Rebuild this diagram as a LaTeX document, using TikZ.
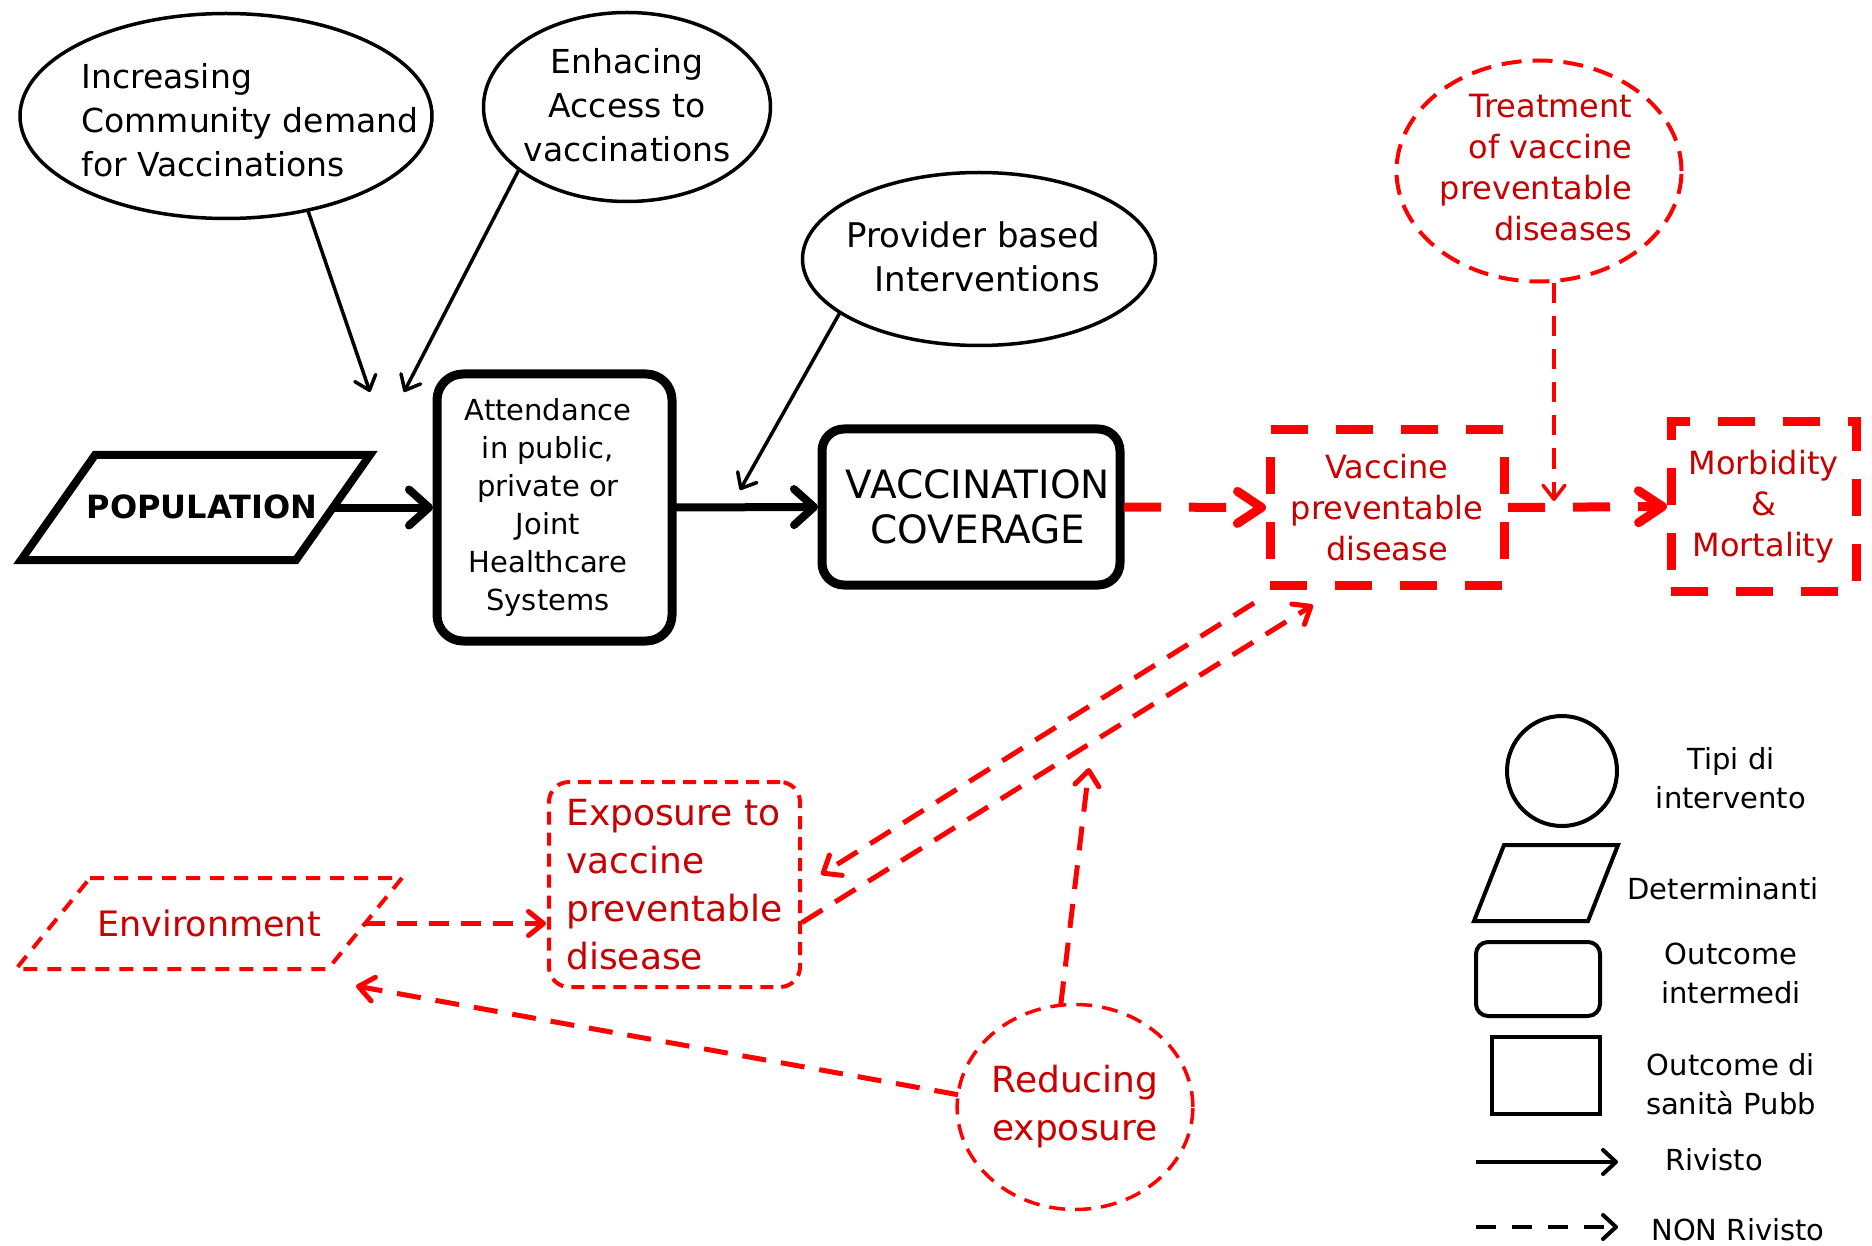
\documentclass[tikz,border=0pt]{standalone}
\usepackage{fontspec}
\setmainfont{DejaVu Sans}
\usetikzlibrary{arrows.meta,shapes.geometric,calc}
\definecolor{linered}{RGB}{255,0,0}
\definecolor{textred}{RGB}{200,0,0}
\begin{document}
\begin{tikzpicture}[x=1pt,y=-1pt,
  every node/.style={inner sep=0pt,outer sep=0pt},
  fsz/.style 2 args={font=\fontsize{#1}{#2}\selectfont},
  interv/.style={draw,ellipse,line width=3.5pt},
  intervred/.style={draw=linered,ellipse,line width=4pt,dash pattern=on 20pt off 11pt,text=textred},
  midout/.style={draw,rounded corners=26pt,line width=9pt},
  finalout/.style={draw=linered,line width=9pt,dash pattern=on 37pt off 28pt,text=textred},
  thinlink/.style={line width=3.5pt,-{Straight Barb[length=13pt,width=22pt,round]}},
  thicklink/.style={line width=8pt,-{Straight Barb[length=20pt,width=36pt,round]}},
  redthick/.style={draw=linered,line width=9pt,dash pattern=on 37pt off 28pt,-{Straight Barb[length=24pt,width=32pt,round]}},
  redlink/.style={draw=linered,line width=5pt,dash pattern=on 24pt off 15pt,-{Straight Barb[length=15pt,width=24pt,round]}},
  redthin/.style={draw=linered,line width=3.5pt,dash pattern=on 20pt off 13pt,-{Straight Barb[length=14pt,width=22pt,round]}},
  legline/.style={line width=4pt,-{Straight Barb[length=13pt,width=24pt,round]}},
]
\useasboundingbox[fill=white] (0,0) rectangle (1872,1246);

% ---------- interventions ----------
\node[interv,minimum width=412pt,minimum height=205pt] (e1) at (226,116) {};
\node[fsz={33}{44},align=left] (e1t) at (250,120) {Increasing\\Community demand\\for Vaccinations};
\node[interv,minimum width=287pt,minimum height=189pt] (e2) at (627,107) {};
\node[fsz={33}{44},align=center] (e2t) at (627,105) {Enhacing\\Access to\\vaccinations};
\node[interv,minimum width=353pt,minimum height=173pt] (e3) at (979,259) {};
\node[fsz={34}{44},align=right] (e3t) at (973,257) {Provider based\\Interventions};
\node[intervred,minimum width=285pt,minimum height=221pt] (tr) at (1539,171) {};
\node[fsz={32}{41},align=right,text=textred] (trt) at (1536,168) {Treatment\\of vaccine\\preventable\\diseases};

% ---------- determinants ----------
\node[minimum width=275pt,minimum height=105pt] (pop) at (195.5,507.5) {};
\draw[line width=8pt] ([xshift=37pt]pop.north west) -- ([xshift=37pt]pop.north east)
  -- ([xshift=-37pt]pop.south east) -- ([xshift=-37pt]pop.south west) -- cycle;
\node[fsz={32}{40}] (popt) at (202,507) {\bfseries POPULATION};

\node[minimum width=312pt,minimum height=91pt,fsz={35}{44},text=textred] (env) at (209,923.5) {Environment};
\draw[draw=linered,line width=4pt,dash pattern=on 14pt off 10pt] ([xshift=37pt]env.north west) -- ([xshift=37pt]env.north east)
  -- ([xshift=-37pt]env.south east) -- ([xshift=-37pt]env.south west) -- cycle;

% ---------- outcomes ----------
\node[midout,minimum width=235pt,minimum height=267pt] (att) at (554.5,507.5) {};
\node[fsz={29}{38},align=center] (attt) at (548,507.5)
  {Attendance\\in public,\\private or\\Joint\\Healthcare\\Systems};
\node[midout,rounded corners=22pt,minimum width=298pt,minimum height=156pt] (vc) at (971,507) {};
\node[fsz={39}{45},align=center] (vct) at (978,507) {VACCINATION\\COVERAGE};
\node[finalout,minimum width=234pt,minimum height=155pt,fsz={32}{41},align=center] (vp) at (1387,507.5)
  {Vaccine\\preventable\\disease};
\node[finalout,minimum width=185pt,minimum height=169pt,fsz={32}{41},align=center] (mm) at (1763.5,506.5)
  {Morbidity\\\&\\Mortality};
\node[draw=linered,rounded corners=20pt,line width=4pt,dash pattern=on 13pt off 8pt,text=textred,
  minimum width=251pt,minimum height=205pt,fsz={36}{48},align=left] (ex) at (674.5,884.5)
  {Exposure to\\vaccine\\preventable\\disease};
\node[intervred,line width=3.5pt,dash pattern=on 16pt off 10pt,minimum width=221pt,minimum height=205pt,
  fsz={36}{48},align=center] (re) at (1075,1107) {Reducing\\exposure};

% ---------- connectors ----------
\coordinate (t1) at (370,392);
\coordinate (t2) at (404,392);
\coordinate (t3) at (740,490);
\draw[thinlink] (e1.-49) -- (t1);
\draw[thinlink] (e2.-150) -- (t2);
\draw[thinlink] (e3.201.7) -- (t3);

\draw[thicklink] (pop.east) -- ([xshift=-4pt]att.west);
\draw[thicklink] (att.east) -- ([xshift=-4pt]vc.west);
\draw[redthick] ([xshift=4pt]vc.east) -- ([xshift=-4pt]vp.west);
\draw[redthick] ([xshift=4pt]vp.east) -- ([xshift=-4pt]mm.west);

\coordinate (trtip) at (1554,501);
\draw[redthin] ([yshift=-2pt]tr.south -| trtip) -- (trtip);

\coordinate (vpA) at ($(vp.south west)+(-16,18)$);
\coordinate (exA) at ($(ex.east)+(21,-10)$);
\coordinate (exB) at ($(ex.east)+(2,38)$);
\coordinate (vpB) at ($(vp.south west)+(43,20)$);
\draw[redlink] (vpA) -- (exA);
\draw[redlink] (exB) -- (vpB);

\coordinate (reup) at (1089,768);
\draw[redlink] (re.98) -- (reup);
\coordinate (envtip) at (356,986);
\draw[redlink] (re.174) -- (envtip);
\draw[redlink,dash pattern=on 20pt off 12pt] (env.east) -- ([xshift=-3pt]env.east -| ex.west);

% ---------- legend ----------
\node[draw,circle,line width=4pt,minimum size=110pt] (lc) at (1562,771) {};
\node[fsz={29}{39},align=center] (lct) at (1731,778) {Tipi di\\intervento};
\node[minimum width=114pt,minimum height=76pt] (lp) at (1546,883) {};
\draw[line width=4pt] ([xshift=15pt]lp.north west) -- ([xshift=15pt]lp.north east)
  -- ([xshift=-15pt]lp.south east) -- ([xshift=-15pt]lp.south west) -- cycle;
\node[fsz={29}{39}] (lpt) at (1723,889) {Determinanti};
\node[draw,rounded corners=12pt,line width=4pt,minimum width=124pt,minimum height=74pt] (lr) at (1538,979) {};
\node[fsz={29}{39},align=center] (lrt) at (1731,973) {Outcome\\intermedi};
\node[draw,line width=4pt,minimum width=108pt,minimum height=77pt] (ls) at (1546,1075.5) {};
\node[fsz={29}{39},align=center] (lst) at (1731,1084) {Outcome di\\sanità Pubb};
\coordinate (la1) at (1476,1162);
\coordinate (la2) at (1618,1162);
\draw[legline] (la1) -- (la2);
\node[fsz={29}{39}] (lat) at (1714,1160) {Rivisto};
\coordinate (lb1) at (1476,1227);
\coordinate (lb2) at (1618,1227);
\draw[legline,dash pattern=on 20pt off 16pt] (lb1) -- (lb2);
\node[fsz={29}{39}] (lbt) at (1738,1230) {NON Rivisto};
\end{tikzpicture}
\end{document}
